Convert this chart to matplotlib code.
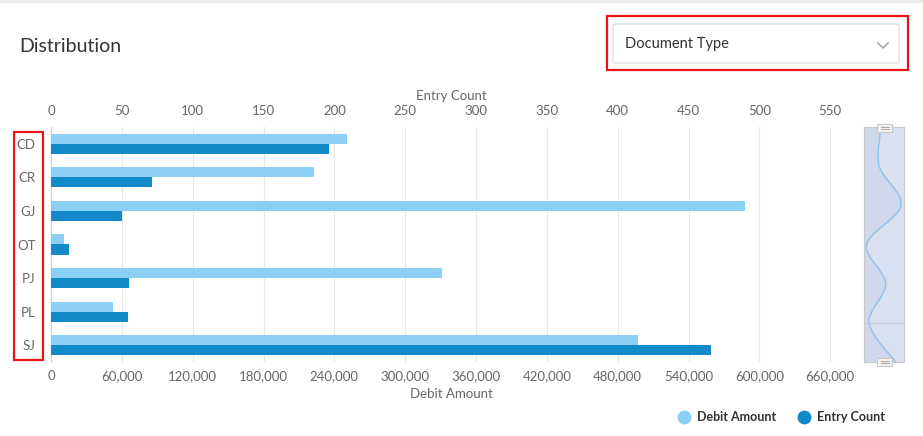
import numpy as np
import matplotlib.pyplot as plt
from matplotlib.path import Path
from matplotlib.patches import PathPatch, Rectangle, FancyBboxPatch
from matplotlib.lines import Line2D

plt.rcParams['font.family'] = ['Lato', 'DejaVu Sans']

# data
doc_types = ['CD', 'CR', 'GJ', 'OT', 'PJ', 'PL', 'SJ']
debit_amount = [250700, 222700, 587700, 11000, 331100, 52500, 497100]
entry_count = [196, 71, 50, 13, 55, 54, 466]

debit_ticks = [0, 60000, 120000, 180000, 240000, 300000, 360000, 420000,
               480000, 540000, 600000, 660000]
count_ticks = [0, 50, 100, 150, 200, 250, 300, 350, 400, 450, 500, 550]
series_names = ['Debit Amount', 'Entry Count']

light = '#8ccff4'
dark = '#1289c9'
grey_txt = '#666666'

W, H = 923, 436
fig = plt.figure(figsize=(W / 100, H / 100), dpi=100)


def fx(px):
    return px / W


def fy(py):
    return 1 - py / H


# top strip
fig.add_artist(Rectangle((0, fy(3)), 1, 3 / H, transform=fig.transFigure,
                         color='#eeeeee', lw=0))

fig.text(fx(19), fy(46), 'Distribution', fontsize=14, color='#333333',
         va='center', ha='left')

# dropdown
fig.add_artist(FancyBboxPatch((fx(613), fy(63)), fx(899) - fx(613), (63 - 24) / H,
                              boxstyle='round,pad=0,rounding_size=0.003',
                              transform=fig.transFigure, fc='white', ec='#d9d9d9', lw=0.8))
fig.text(fx(625), fy(44), 'Document Type', fontsize=10.5, color='#333333',
         va='center', ha='left')
fig.add_artist(Line2D([fx(878), fx(883), fx(888)], [fy(43), fy(48), fy(43)],
                      transform=fig.transFigure, color='#999999', lw=1))

# main axes
left_px, right_px, top_px, bot_px = 51, 852, 127, 362
ax = fig.add_axes([fx(left_px), fy(bot_px), fx(right_px) - fx(left_px),
                   (bot_px - top_px) / H])
px_per_count = (830.3 - 51) / 550
count_max = (right_px - left_px) / px_per_count
debit_max = count_max * 1200

y = np.arange(len(doc_types))
h = 0.3
ax.barh(y - h / 2, debit_amount, height=h, color=light, zorder=3)
ax.set_xlim(0, debit_max)
ax.set_ylim(len(doc_types) - 0.5, -0.5)
ax.set_xticks(debit_ticks)
ax.set_xticklabels([f'{t:,}' for t in debit_ticks])
ax.set_yticks(y)
ax.set_yticklabels(doc_types)
ax.tick_params(axis='x', length=0, pad=6, labelsize=9.5, labelcolor=grey_txt)
ax.tick_params(axis='y', length=0, pad=11, labelsize=9.5, labelcolor=grey_txt)
ax.set_xlabel('Debit Amount', fontsize=9.5, color=grey_txt, labelpad=4)
for s in ['top', 'right', 'bottom']:
    ax.spines[s].set_visible(False)
ax.spines['left'].set_color('#ccd6eb')
ax.spines['left'].set_linewidth(1)
for t in debit_ticks:
    ax.axvline(t, color='#e6e6e6', lw=0.8, zorder=1)

ax2 = ax.twiny()
ax2.barh(y + h / 2, entry_count, height=h, color=dark, zorder=3)
ax2.set_xlim(0, count_max)
ax2.set_xticks(count_ticks)
ax2.tick_params(axis='x', length=0, pad=7, labelsize=9.5, labelcolor=grey_txt)
ax2.set_xlabel('Entry Count', fontsize=9.5, color=grey_txt, labelpad=4)
for s in ax2.spines.values():
    s.set_visible(False)

# red highlight boxes
fig.add_artist(Rectangle((fx(14), fy(360)), fx(43) - fx(14), (360 - 132) / H,
                         transform=fig.transFigure, fill=False, ec='#e8141a', lw=1.6))
fig.add_artist(Rectangle((fx(607), fy(70)), fx(908) - fx(607), (70 - 16) / H,
                         transform=fig.transFigure, fill=False, ec='#e8141a', lw=1.6))

# navigator
nav = fig.add_axes([fx(864), fy(362), fx(904) - fx(864), (362 - 127) / H])
vmax = max(debit_amount)
nav.set_xlim(-2 / 35 * vmax, 38 / 35 * vmax)
nav.set_ylim(len(doc_types) - 1, 0)
nav.set_facecolor('#d9e0f0')
pts = np.column_stack([debit_amount, y]).astype(float)
ext = np.vstack([pts[0], pts, pts[-1]])
verts = [tuple(pts[0])]
codes = [Path.MOVETO]
for i in range(len(pts) - 1):
    p0, p1, p2, p3 = ext[i], ext[i + 1], ext[i + 2], ext[i + 3]
    c1 = p1 + (p2 - p0) / 6
    c2 = p2 - (p3 - p1) / 6
    verts += [tuple(c1), tuple(c2), tuple(p2)]
    codes += [Path.CURVE4] * 3
curve = Path(verts, codes)
x0 = -2 / 35 * vmax
fill_path = Path(verts + [(x0, y[-1]), (x0, 0), verts[0]],
                 codes + [Path.LINETO, Path.LINETO, Path.CLOSEPOLY])
nav.add_patch(PathPatch(fill_path, fc='#cfd8ec', ec='none'))
nav.add_patch(PathPatch(curve, fc='none', ec='#8cc4ee', lw=1))
nav.axhline(5, color='#c4c9d6', lw=0.8)
nav.set_xticks([])
nav.set_yticks([])
for s in nav.spines.values():
    s.set_color('#c8c8c8')

for cy in (128, 362):
    fig.add_artist(Rectangle((fx(877), fy(cy + 4)), fx(892) - fx(877), 8 / H,
                             transform=fig.transFigure, fc='#f2f2f2', ec='#c8c8c8', lw=0.8))
    for dy in (-1.2, 1.2):
        fig.add_artist(Line2D([fx(880.5), fx(888.5)], [fy(cy + dy), fy(cy + dy)],
                              transform=fig.transFigure, color='#999999', lw=0.6))

# legend
for name, col, mx in zip(series_names, [light, dark], [684, 804]):
    fig.add_artist(Line2D([fx(mx)], [fy(417)], ls='none', marker='o', ms=9,
                          color=col, transform=fig.transFigure))
    fig.text(fx(mx + 13), fy(417), name, fontsize=9, weight='bold',
             color='#333333', va='center', ha='left')

fig.savefig('out.png', dpi=100)
